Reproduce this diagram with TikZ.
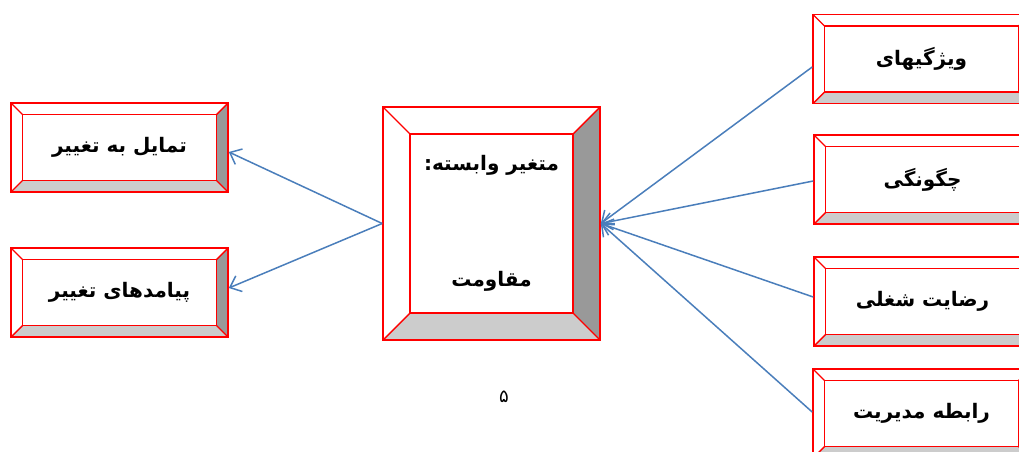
\documentclass[tikz,border=0pt]{standalone}
\usepackage{fontspec}
\newfontfamily\farsi[Script=Arabic]{DejaVu Sans}
\TeXXeTstate=1
\usetikzlibrary{arrows.meta,positioning}
\definecolor{boxred}{HTML}{FF0000}
\definecolor{linkblue}{HTML}{4A7EBB}
\definecolor{bevdark}{HTML}{999999}
\definecolor{bevlight}{HTML}{CCCCCC}
\def\bevsz{11.5pt}

\begin{document}
\begin{tikzpicture}[
    x=1pt, y=-1pt,
    bev/.store in=\bevsz,
    bevelbox/.style={draw=boxred, line width=1.6pt, fill=white,
        minimum width=217pt, minimum height=89pt, inner sep=0pt,
        font=\farsi\bfseries\fontsize{20}{24}\selectfont, align=center,
        path picture={
            \coordinate (oNE) at (path picture bounding box.north east);
            \coordinate (oNW) at (path picture bounding box.north west);
            \coordinate (oSE) at (path picture bounding box.south east);
            \coordinate (oSW) at (path picture bounding box.south west);
            \coordinate (iNE) at ([xshift=-\bevsz,yshift=-\bevsz]oNE);
            \coordinate (iNW) at ([xshift=\bevsz,yshift=-\bevsz]oNW);
            \coordinate (iSE) at ([xshift=-\bevsz,yshift=\bevsz]oSE);
            \coordinate (iSW) at ([xshift=\bevsz,yshift=\bevsz]oSW);
            \fill[bevdark] (oNE) -- (oSE) -- (iSE) -- (iNE) -- cycle;
            \fill[bevlight] (oSW) -- (oSE) -- (iSE) -- (iSW) -- cycle;
            \draw[boxred, line width=1.6pt] (iNW) rectangle (iSE);
            \draw[boxred, line width=1.4pt] (oNW) -- (iNW) (oNE) -- (iNE)
                (oSE) -- (iSE) (oSW) -- (iSW);
        }},
    link/.style={linkblue, line width=1.5pt, -{Straight Barb[length=10pt, width=17pt]}},
]
\useasboundingbox (0,0) rectangle (1019,451);
\clip (0,0) rectangle (1019,451);

% Dependent variable
\node[bevelbox, bev=27pt, minimum height=233pt] (resist) at (491.5,223.5)
    {\beginR متغیر وابسته:\endR\\[92pt]\beginR مقاومت\endR};

% Outcomes (left)
\node[bevelbox] (tend) at (119.5,147.5) {\beginR تمایل به تغییر\endR};
\node[bevelbox] (conseq) at (119.5,292.5) {\beginR پیامدهای تغییر\endR};

% Factors (right)
\node[bevelbox] (traits) at (921.5,59) {\beginR ویژگیهای\endR};
\node[bevelbox] (how) at (922.5,179.5) {\beginR چگونگی\endR};
\node[bevelbox] (satisf) at (922.5,301.5) {\beginR رضایت شغلی\endR};
\node[bevelbox] (manage) at (921.5,413.5) {\beginR رابطه مدیریت\endR};

% Links
\draw[link] (resist.west) -- ([yshift=-4.5pt]tend.east);
\draw[link] (resist.west) -- ([yshift=4.5pt]conseq.east);
\foreach \src/\dy in {traits/-8, how/-1.5, satisf/4.5, manage/1.5} {
    \draw[link] ([yshift=\dy pt]\src.west) -- (resist.east);
}

% Page number
\node[font=\farsi\fontsize{18}{20}\selectfont] (pagenum) at (504,397) {۵};

\end{tikzpicture}
\end{document}
